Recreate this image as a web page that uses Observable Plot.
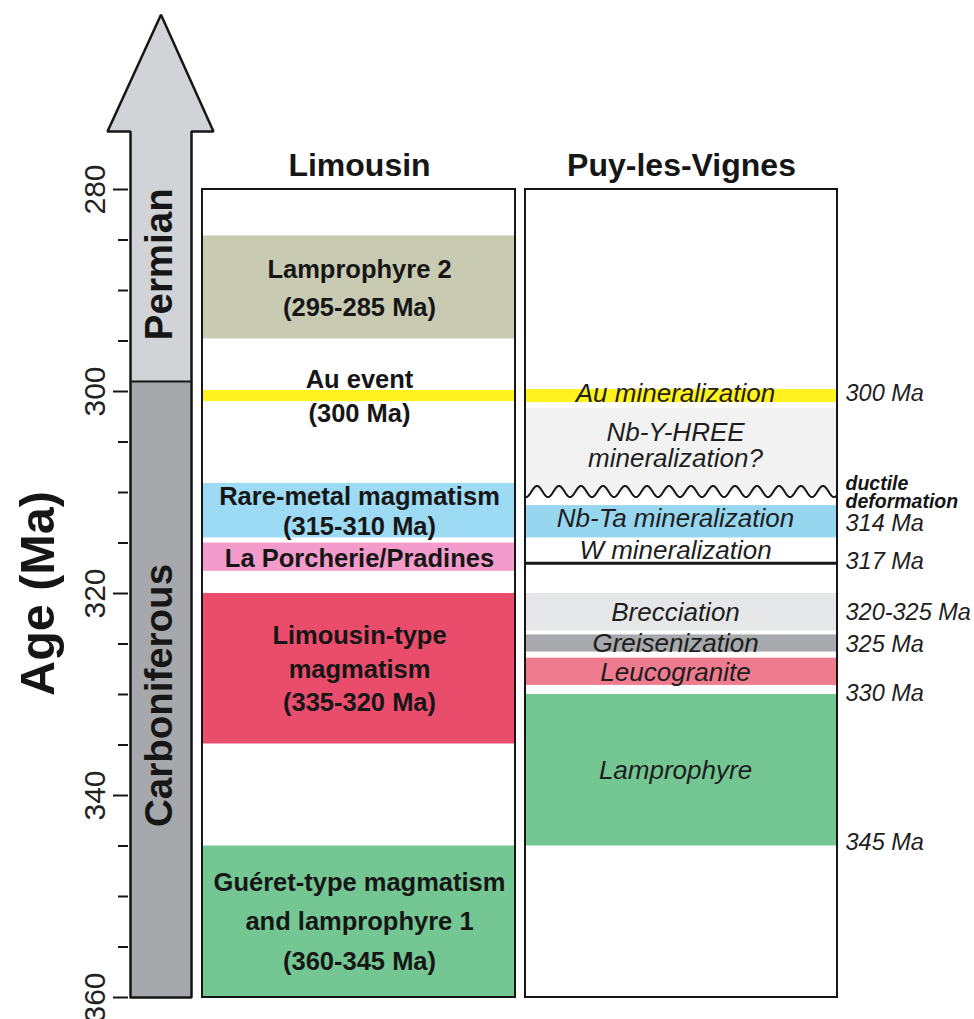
<!DOCTYPE html>
<html><head><meta charset="utf-8">
<script src="https://cdn.jsdelivr.net/npm/d3@7"></script>
<script src="https://cdn.jsdelivr.net/npm/@observablehq/plot@0.6"></script>
<style>
body{margin:0;background:#fff;}
#chart svg{display:block;}
</style></head><body><div id="chart"></div>
<script>
// ---------------- DATA ----------------
// Age axis
const majorTicks = [280, 300, 320, 340, 360];
const minorTicks = [285, 290, 295, 305, 310, 315, 325, 330, 335, 345, 350, 355];

// Geological periods (time arrow)
const periodNames = ["Permian", "Carboniferous"];
const periodBoundary = 299;          // Ma
const periodLabelAge = [287.4, 330.1];

// Limousin column
const limLabels = [
  "Lamprophyre 2\n(295-285 Ma)",
  "Au event\n(300 Ma)",
  "Rare-metal magmatism\n(315-310 Ma)",
  "La Porcherie/Pradines",
  "Limousin-type\nmagmatism\n(335-320 Ma)",
  "Guéret-type magmatism\nand lamprophyre 1\n(360-345 Ma)"
];
const limTop    = [284.6, 299.9, 309.1, 315.0, 320.0, 345.0];
const limBottom = [294.8, 301.0, 314.5, 317.8, 334.9, 359.9];
const limColors = ["#c9cab2", "#fff21f", "#9ddaf3", "#f39bca", "#e94d6b", "#74c792"];

// Puy-les-Vignes column
const puyLabels = [
  "Au mineralization",
  "Nb-Y-HREE\nmineralization?",
  "Nb-Ta mineralization",
  "Brecciation",
  "Greisenization",
  "Leucogranite",
  "Lamprophyre"
];
const puyTop    = [299.8, 301.7, 311.3, 320.0, 324.1, 326.4, 330.0];
const puyBottom = [301.1, 310.0, 314.5, 323.7, 325.8, 329.1, 345.0];
const puyColors = ["#fff21f", "#f2f2f2", "#97d6ef", "#e6e7e8", "#a7a9ac", "#ef7b8f", "#74c792"];
const puyLabelAge = [300.2, 305.4, 312.6, 321.9, 325.0, 327.8, 337.5];

// W mineralization event line
const wLabel = "W mineralization";
const wAge = 317;
const wLabelAge = 315.8;

// Ductile deformation (unconformity)
const deformationAge = 309.9;
const deformationLabel = "ductile\ndeformation";
const deformationLabelAge = 310.1;

// Ages written on the right
const ageLabels    = ["300 Ma", "314 Ma", "317 Ma", "320-325 Ma", "325 Ma", "330 Ma", "345 Ma"];
const ageLabelAges = [300.2, 313.1, 316.8, 321.9, 325.0, 329.9, 344.65];

const columnTitles = ["Limousin", "Puy-les-Vignes"];

// ---------------- LAYOUT ----------------
const FONT = '"Liberation Sans", Arial, Helvetica, sans-serif';
const INK = "#161616";
const LIM = {x1: 202, x2: 515, cx: 359};
const PUY = {x1: 525, x2: 837, cx: 675, titleX: 681};
const AGE_X = 845;
const TICK = {x2: 128, major: 113, minor: 118, labelX: 95};
const ARROW = {left: 130, right: 191, headLeft: 107, headRight: 213, tipX: 160.5, headBase: 274.26, tip: 262.7};
const TITLE_AGE = 277.6;
const limLineHeight = [1.5, 1.32, 1.18, 1.2, 1.32, 1.56];
const limLabelShift = [-0.25, -0.2, 0, 0, -0.2, -0.35];
const WAVE_PERIOD = 22, WAVE_AMP = 0.55;

const permianPoly = [
  [ARROW.headLeft, ARROW.headBase], [ARROW.tipX, ARROW.tip], [ARROW.headRight, ARROW.headBase],
  [ARROW.right, ARROW.headBase], [ARROW.right, periodBoundary], [ARROW.left, periodBoundary],
  [ARROW.left, ARROW.headBase]
];
const arrowOutline = [
  [ARROW.left, 360], [ARROW.left, ARROW.headBase], [ARROW.headLeft, ARROW.headBase],
  [ARROW.tipX, ARROW.tip], [ARROW.headRight, ARROW.headBase], [ARROW.right, ARROW.headBase],
  [ARROW.right, 360], [ARROW.left, 360]
];
// decorative wavy symbol for the deformation surface
const wave = d3.range(PUY.x1 + 1, PUY.x2, 1).map(x => [x, deformationAge - WAVE_AMP * Math.sin(2 * Math.PI * (x - PUY.x1 - 6) / WAVE_PERIOD)]);

const idx = a => a.map((_, i) => i);

const marks = [
  // time arrow
  Plot.line(permianPoly, {x: d => d[0], y: d => d[1], fill: "#d1d3d6", stroke: "none"}),
  Plot.rect([0], {x1: ARROW.left, x2: ARROW.right, y1: periodBoundary, y2: 360, fill: "#a6a8ab"}),
  Plot.ruleY([periodBoundary], {x1: ARROW.left, x2: ARROW.right, stroke: INK, strokeWidth: 2}),
  Plot.line(arrowOutline, {x: d => d[0], y: d => d[1], stroke: INK, strokeWidth: 2.5, strokeLinejoin: "miter"}),
  Plot.text(idx(periodNames), {x: ARROW.tipX - 1, y: i => periodLabelAge[i], text: i => periodNames[i], rotate: -90, fontSize: 38.5, fontWeight: "bold", fill: INK}),

  // age axis
  Plot.ruleY(majorTicks, {y: d => d, x1: TICK.major, x2: TICK.x2, stroke: INK, strokeWidth: 2}),
  Plot.ruleY(minorTicks, {y: d => d, x1: TICK.minor, x2: TICK.x2, stroke: INK, strokeWidth: 2}),
  Plot.text(majorTicks, {y: d => d, x: TICK.labelX, text: d => String(d), rotate: -90, fontSize: 30, fill: "#222"}),
  Plot.text(["Age (Ma)"], {x: 38, y: 320.0, text: d => d, rotate: -90, fontSize: 48.5, fontWeight: "bold", fill: INK}),

  // column backgrounds
  Plot.rect([LIM, PUY], {x1: d => d.x1, x2: d => d.x2, y1: 280, y2: 360, fill: "white"}),

  // Limousin bands
  Plot.rect(idx(limLabels), {x1: LIM.x1, x2: LIM.x2, y1: i => limTop[i], y2: i => limBottom[i], fill: i => limColors[i]}),
  // Puy bands
  Plot.rect(idx(puyLabels), {x1: PUY.x1, x2: PUY.x2, y1: i => puyTop[i], y2: i => puyBottom[i], fill: i => puyColors[i]}),

  // deformation wave and W line
  Plot.line(wave, {x: d => d[0], y: d => d[1], stroke: INK, strokeWidth: 2}),
  Plot.ruleY([wAge], {x1: PUY.x1, x2: PUY.x2, stroke: INK, strokeWidth: 3}),

  // column outlines
  Plot.rect([LIM, PUY], {x1: d => d.x1, x2: d => d.x2, y1: 280, y2: 360, fill: "none", stroke: INK, strokeWidth: 2}),

  // Limousin labels
  ...limLabels.map((t, i) => Plot.text([i], {
    x: LIM.cx, y: j => (limTop[j] + limBottom[j]) / 2 + limLabelShift[j], text: j => limLabels[j],
    fontSize: 25.5, fontWeight: "bold", fill: INK, lineHeight: limLineHeight[i]
  })),

  // Puy labels
  Plot.text(idx(puyLabels), {x: PUY.cx, y: i => puyLabelAge[i], text: i => puyLabels[i],
    fontSize: 26, fontStyle: "italic", fill: "#1e1e1e", lineHeight: 1.0}),
  Plot.text([wLabel], {x: PUY.cx, y: wLabelAge, text: d => d, fontSize: 26, fontStyle: "italic", fill: "#1e1e1e"}),

  // right-hand ages
  Plot.text(idx(ageLabels), {x: AGE_X, y: i => ageLabelAges[i], text: i => ageLabels[i], textAnchor: "start",
    fontSize: 23.5, fontStyle: "italic", fill: "#1e1e1e"}),
  Plot.text([deformationLabel], {x: AGE_X, y: deformationLabelAge, text: d => d, textAnchor: "start",
    fontSize: 19.5, fontStyle: "italic", fontWeight: "bold", fill: INK, lineHeight: 0.92}),

  // column titles
  Plot.text(columnTitles, {x: (d, i) => [LIM.cx, PUY.titleX][i], y: TITLE_AGE, text: d => d,
    fontSize: 32, fontWeight: "bold", fill: INK})
];

const chart = Plot.plot({
  width: 974, height: 1019, margin: 0,
  x: {type: "linear", domain: [0, 974], range: [0, 974], axis: null},
  y: {domain: [280, 360], range: [189, 997], axis: null},
  style: {fontFamily: FONT, background: "white", overflow: "visible"},
  marks
});
document.getElementById("chart").appendChild(chart);
</script>
</body></html>
